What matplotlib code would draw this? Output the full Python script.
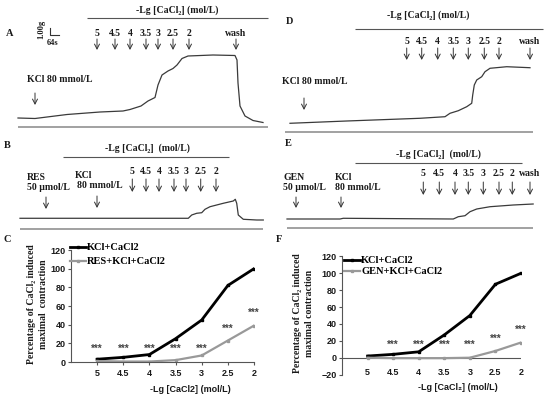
import matplotlib
matplotlib.use('Agg')
from matplotlib import pyplot as plt
from matplotlib.lines import Line2D

W, H = 550, 399
S_PER_PX = 7.0    # 64 s scale bar is ~9 px wide
G_PER_PX = 0.14   # 1.00 g scale bar is ~7 px tall

conc = ['5', '4.5', '4', '3.5', '3', '2.5', '2']

# tension traces: time (s) and tension (g)
a_t = [0, 119, 343, 574, 735, 784, 861, 910, 959, 980, 1008, 1050, 1085, 1113,
       1148, 1190, 1365, 1519, 1533, 1540, 1554, 1589, 1645, 1715]
a_g = [1.26, 1.19, 1.75, 2.10, 2.24, 2.45, 2.94, 3.64, 4.13, 5.88, 7.28, 7.84, 8.19, 8.68,
       9.59, 9.94, 10.08, 10.01, 9.38, 6.16, 2.94, 1.54, 0.91, 0.63]
a_kcl = 119
a_ca = [553, 679, 784, 896, 980, 1085, 1197]
a_wash = 1526

b_t = [0, 1178, 1202, 1237, 1272, 1295, 1330, 1423, 1493, 1507, 1517, 1528, 1563, 1657, 1703]
b_g = [1.50, 1.50, 1.96, 2.20, 2.28, 2.76, 3.12, 3.60, 3.92, 4.16, 3.60, 1.96, 1.36, 1.26, 1.26]
b_res = 182
b_kcl = 539
b_ca = [786, 882, 973, 1078, 1162, 1265, 1372]

d_t = [0, 397, 910, 1085, 1120, 1178, 1237, 1272, 1279, 1290, 1307, 1342, 1365, 1400, 1517, 1680]
d_g = [1.22, 1.54, 1.92, 2.14, 2.62, 2.98, 3.54, 4.02, 5.18, 6.58, 7.28, 7.74, 8.44, 8.92, 9.14, 9.00]
d_kcl = 98
d_ca = [817, 922, 1034, 1143, 1248, 1360, 1463]
d_wash = 1680

e_t = [0, 371, 394, 1164, 1199, 1246, 1281, 1328, 1421, 1584, 1723]
e_g = [0.98, 0.98, 1.08, 0.98, 1.30, 1.44, 2.00, 2.38, 2.70, 2.94, 3.08]
e_gen = 63
e_kcl = 378
e_ca = [954, 1066, 1176, 1269, 1374, 1484, 1577]
e_wash = 1701

# percentage of CaCl2 induced maximal contraction
c_kcl = [3, 5, 8, 25, 45, 82, 100]
c_res = [1, 0.5, 0.5, 2, 7, 23, 39]
f_kcl = [2, 4, 7, 27, 50, 87, 100]
f_gen = [0, -0.5, -0.5, -0.5, 0, 8, 18]

SERIF = ['Liberation Serif', 'DejaVu Serif']
SANS = ['Liberation Sans', 'DejaVu Sans']
INK = '#1a1a1a'
FS = 7

fig = plt.figure(figsize=(W / 100, H / 100), dpi=100)
ov = fig.add_axes([0, 0, 1, 1])
ov.set_xlim(0, W)
ov.set_ylim(H, 0)
ov.axis('off')


def txt(x, y, s, size=FS, ha='center', family=SERIF, **kw):
    ov.text(x, y, s, fontsize=size, ha=ha, va='center', family=family,
            weight='bold', color=INK, **kw)


def hline(x0, x1, y, color='#555555', lw=0.8):
    ov.plot([x0, x1], [y, y], color=color, lw=lw, solid_capstyle='butt')


def trace_panel(box, t0_px, base_px):
    x0, y0, x1, y1 = box
    ax = fig.add_axes([x0 / W, 1 - y1 / H, (x1 - x0) / W, (y1 - y0) / H])
    ax.set_xlim((x0 - t0_px) * S_PER_PX, (x1 - t0_px) * S_PER_PX)
    ax.set_ylim((base_px - y1) * G_PER_PX, (base_px - y0) * G_PER_PX)
    ax.axis('off')
    return ax


def arrow(ax, t, y_top, y_bot):
    ax.annotate('', xy=(t, H - y_bot), xytext=(t, H - y_top),
                xycoords=('data', 'figure pixels'), textcoords=('data', 'figure pixels'),
                arrowprops=dict(arrowstyle='->,head_length=0.35,head_width=0.18',
                                lw=0.7, color='#333333', shrinkA=0, shrinkB=0))


def label_at(ax, t, y, s, size=FS):
    ax.annotate(s, xy=(t, H - y), xycoords=('data', 'figure pixels'), ha='center',
                va='center', fontsize=size, family=SERIF, weight='bold', color=INK)


def doses(ax, times, y_lab, y_top, y_bot):
    for t, c in zip(times, conc):
        label_at(ax, t, y_lab, c)
        arrow(ax, t, y_top, y_bot)


HDR = '-Lg [CaCl\u2082] (mol/L)'

# ---------- A ----------
axA = trace_panel((0, 0, 275, 130), 18, 127)
axA.plot(a_t, a_g, color='#3a3a3a', lw=0.9)
doses(axA, a_ca, 33, 39, 50)
label_at(axA, a_wash, 33, 'wash')
arrow(axA, a_wash, 39, 50)
arrow(axA, a_kcl, 93, 105)
axA.plot([224, 224, 288], [13.88, 12.88, 12.88], color='#333333', lw=0.8)
txt(10, 33, 'A', 7.5)
txt(41, 29, '1.00g', 6, rotation=90)
txt(53, 43, '64s', 6)
txt(177, 10, HDR)
hline(87, 268, 18.3)
txt(27, 80, 'KCl 80 mmol/L', ha='left')
hline(18, 268, 127.3, color='#9a9a9a', lw=1.3)

# ---------- B ----------
axB = trace_panel((0, 135, 275, 232), 20, 229)
axB.plot(b_t, b_g, color='#3a3a3a', lw=0.9)
doses(axB, b_ca, 171, 179, 192)
arrow(axB, b_res, 197, 209)
arrow(axB, b_kcl, 196, 208)
txt(7, 145, 'B', 7.5)
txt(147, 148, '-Lg [CaCl\u2082]  (mol/L)')
hline(63, 229, 157.3)
txt(27, 177, 'RES', ha='left')
txt(27, 187, '50 \u03bcmol/L', ha='left')
txt(75, 175, 'KCl', ha='left')
txt(77, 186, '80 mmol/L', ha='left')
hline(20, 263, 229.3, color='#9a9a9a', lw=1.3)

# ---------- D ----------
axD = trace_panel((275, 0, 550, 137), 290, 132)
axD.plot(d_t, d_g, color='#3a3a3a', lw=0.9)
doses(axD, d_ca, 41, 48, 60)
label_at(axD, d_wash, 41, 'wash')
arrow(axD, d_wash, 48, 60)
arrow(axD, d_kcl, 98, 110)
txt(290, 22, 'D', 7.5)
txt(428, 15, HDR)
hline(355, 543, 29.3)
txt(282, 82, 'KCl 80 mmol/L', ha='left')
hline(285, 533, 132.3, color='#9a9a9a', lw=1.3)

# ---------- E ----------
axE = trace_panel((275, 137, 550, 232), 287, 226)
axE.plot(e_t, e_g, color='#3a3a3a', lw=0.9)
doses(axE, e_ca, 173, 182, 195)
label_at(axE, e_wash, 173, 'wash')
arrow(axE, e_wash, 182, 195)
arrow(axE, e_gen, 197, 208)
arrow(axE, e_kcl, 197, 208)
txt(288, 144, 'E', 7.5)
txt(438, 154, '-Lg [CaCl\u2082]  (mol/L)')
hline(355, 522, 162.7)
txt(283, 178, 'GEN', ha='left')
txt(283, 188, '50 \u03bcmol/L', ha='left')
txt(335, 178, 'KCl', ha='left')
txt(335, 188, '80 mmol/L', ha='left')
hline(287, 533, 227.5, color='#9a9a9a', lw=1.3)


# ---------- C / F ----------
def pct_axes(rect, ylim, yticks):
    x0, y0, x1, y1 = rect
    ax = fig.add_axes([x0 / W, 1 - y1 / H, (x1 - x0) / W, (y1 - y0) / H])
    ax.set_xlim(0, 7)
    ax.set_ylim(*ylim)
    ax.set_yticks(yticks)
    for s in ('top', 'right'):
        ax.spines[s].set_visible(False)
    for s in ('left', 'bottom'):
        ax.spines[s].set_color('#555555')
        ax.spines[s].set_linewidth(0.8)
    ax.patch.set_visible(False)
    ax.tick_params(axis='y', length=2, width=0.8, color='#555555', pad=2,
                   labelsize=6.5, labelcolor=INK)
    for lab in ax.get_yticklabels():
        lab.set_family(SANS)
        lab.set_weight('bold')
    return ax


xs = list(range(1, 8))
star_kw = dict(ha='center', va='center', fontsize=7, family=SANS, weight='bold', color='#444444')
leg_kw = dict(frameon=False, loc='upper left', bbox_transform=fig.transFigure,
              handlelength=1.5, handletextpad=0.15, borderpad=0, borderaxespad=0,
              prop=dict(family=SERIF, weight='bold', size=7.5))

axC = pct_axes((71, 250, 254, 362), (0, 120), range(0, 121, 20))
axC.plot(xs, c_kcl, color='black', lw=2, marker='s', ms=1.8)
axC.plot(xs, c_res, color='#999999', lw=1.6, marker='s', ms=1.8)
axC.set_xticks(xs)
axC.set_xticklabels(conc, family=SANS, weight='bold', fontsize=6.5, color=INK)
axC.tick_params(axis='x', length=2, width=0.8, color='#555555', pad=3)
for x, y in zip(xs, [14, 14, 14, 14, 14, 36, 53]):
    axC.text(x, y, '***', **star_kw)
axC.legend([Line2D([], [], color='black', lw=2, marker='s', ms=1.8),
            Line2D([], [], color='#999999', lw=1.6, marker='s', ms=1.8)],
           ['KCl+CaCl2', 'RES+KCl+CaCl2'], bbox_to_anchor=(70 / W, 1 - 243 / H),
           labelspacing=0.45, **leg_kw)
txt(7, 240, 'C', 7.5)
txt(32, 304, 'Percentage of CaCl\u2082 induced', 7, rotation=90)
txt(43, 304, 'maximal  contraction', 7, rotation=90)
txt(190, 389, '-Lg [CaCl2] (mol/L)', 6.5, family=SANS)

axF = pct_axes((342, 256.4, 521, 374.6), (-20, 120), range(-20, 121, 20))
axF.spines['bottom'].set_visible(False)
axF.axhline(0, color='#555555', lw=0.8)
axF.plot(xs, f_kcl, color='black', lw=2, marker='s', ms=1.8)
axF.plot(xs, f_gen, color='#999999', lw=1.6, marker='s', ms=1.8)
axF.set_xticks([])
for x, c in zip(xs, conc):
    axF.text(x, -17, c, ha='center', va='center', fontsize=6.5, family=SANS,
             weight='bold', color=INK)
for x, y in zip(xs[1:], [15, 15, 15, 15, 22, 33]):
    axF.text(x, y, '***', **star_kw)
axF.legend([Line2D([], [], color='black', lw=2, marker='s', ms=1.8),
            Line2D([], [], color='#999999', lw=1.6, marker='s', ms=1.8)],
           ['KCl+CaCl2', 'GEN+KCl+CaCl2'], bbox_to_anchor=(344 / W, 1 - 256 / H),
           labelspacing=0.15, **leg_kw)
txt(279, 240, 'F', 7.5)
txt(298, 313, 'Percentage of CaCl\u2082 induced', 7, rotation=90)
txt(309, 313, 'maximal contraction', 7, rotation=90)
txt(458, 388, '-Lg [CaCl\u2082] (mol/L)', 6.5, family=SANS)

fig.savefig('out.png', dpi=100)
